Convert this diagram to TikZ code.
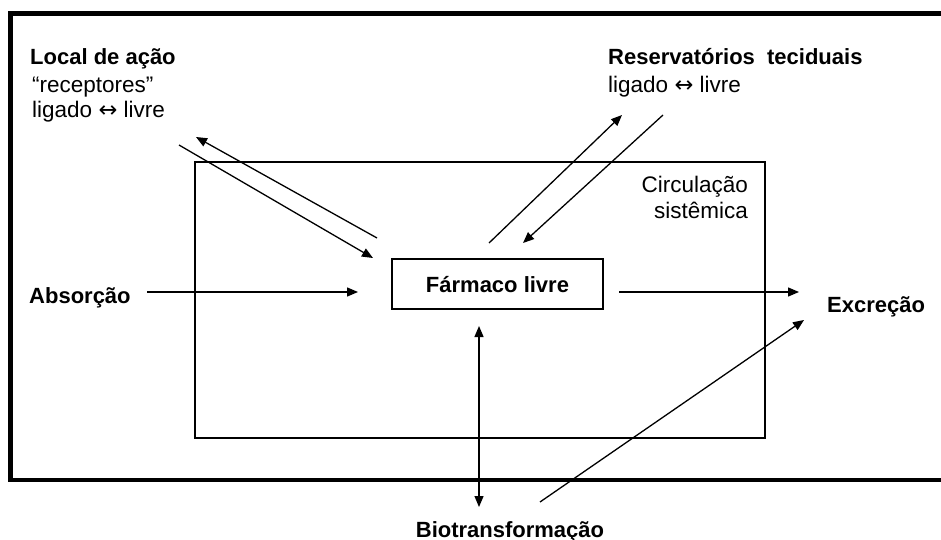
\documentclass[tikz,border=0pt]{standalone}
\usepackage{fontspec}
\setmainfont{Liberation Sans}
\newfontfamily\arrowfont{DejaVu Sans}
\newcommand{\lrarr}{{\arrowfont ↔}}
\usetikzlibrary{arrows.meta}
\begin{document}
\begin{tikzpicture}[x=1pt,y=-1pt,
  lbl/.style={inner sep=0pt,font=\fontsize{22.5}{26}\selectfont},
  blbl/.style={inner sep=0pt,font=\fontsize{22}{26}\selectfont\bfseries},
  conn/.style={line width=1.3pt,-{Triangle[length=11pt,width=9pt]}},
  biconn/.style={line width=1.3pt,{Triangle[length=11pt,width=9pt]}-{Triangle[length=11pt,width=9pt]}},
  framebox/.style={draw,line width=4.5pt},
  circbox/.style={draw,line width=1.5pt}]
\useasboundingbox (0,0) rectangle (941,540);
\begin{scope}
\clip (0,0) rectangle (941,540);
\draw[framebox] (10.5,13.5) rectangle (960,480);
\end{scope}
\draw[circbox] (195,162) rectangle (765,438);
\node[circbox,blbl,minimum width=211pt,minimum height=50pt,text height=16pt,text depth=0pt] (farm) at (497.5,284) {Fármaco livre};
% labels
\node[blbl,anchor=base west] (local) at (30,65) {Local de ação};
\node[lbl,anchor=base west] (recep) at (32,93) {“receptores”};
\node[lbl,anchor=base west] (lig1) at (32,118) {ligado \lrarr{} livre};
\node[blbl,anchor=base west] (reserv) at (608,65) {Reservatórios\ \ teciduais};
\node[lbl,anchor=base west] (lig2) at (608,93) {ligado \lrarr{} livre};
\node[lbl,anchor=base east] (circ1) at (748,192) {Circulação};
\node[lbl,anchor=base east] (circ2) at (748,218) {sistêmica};
\node[blbl,anchor=base west] (absor) at (29,303) {Absorção};
\node[blbl,anchor=base west] (excr) at (827,312) {Excreção};
\node[blbl,anchor=base] (biot) at (510,537) {Biotransformação};
% connector ends
\coordinate (a1) at (147,292); \coordinate (a2) at (358,292);
\coordinate (e1) at (619,292); \coordinate (e2) at (799,292);
\coordinate (l1) at (179,145); \coordinate (l2) at (373,258);
\coordinate (l3) at (377,238); \coordinate (l4) at (196,137);
\coordinate (r1) at (489,243); \coordinate (r2) at (622,115);
\coordinate (r3) at (663,115); \coordinate (r4) at (523,243);
\coordinate (b1) at (479,326); \coordinate (b2) at (479,507);
\coordinate (x1) at (540,502); \coordinate (x2) at (804,320);
\draw[conn] (a1) -- (a2);
\draw[conn] (e1) -- (e2);
\draw[conn] (l1) -- (l2);
\draw[conn] (l3) -- (l4);
\draw[conn] (r1) -- (r2);
\draw[conn] (r3) -- (r4);
\draw[biconn] (b1) -- (b2);
\draw[conn] (x1) -- (x2);
\end{tikzpicture}
\end{document}
